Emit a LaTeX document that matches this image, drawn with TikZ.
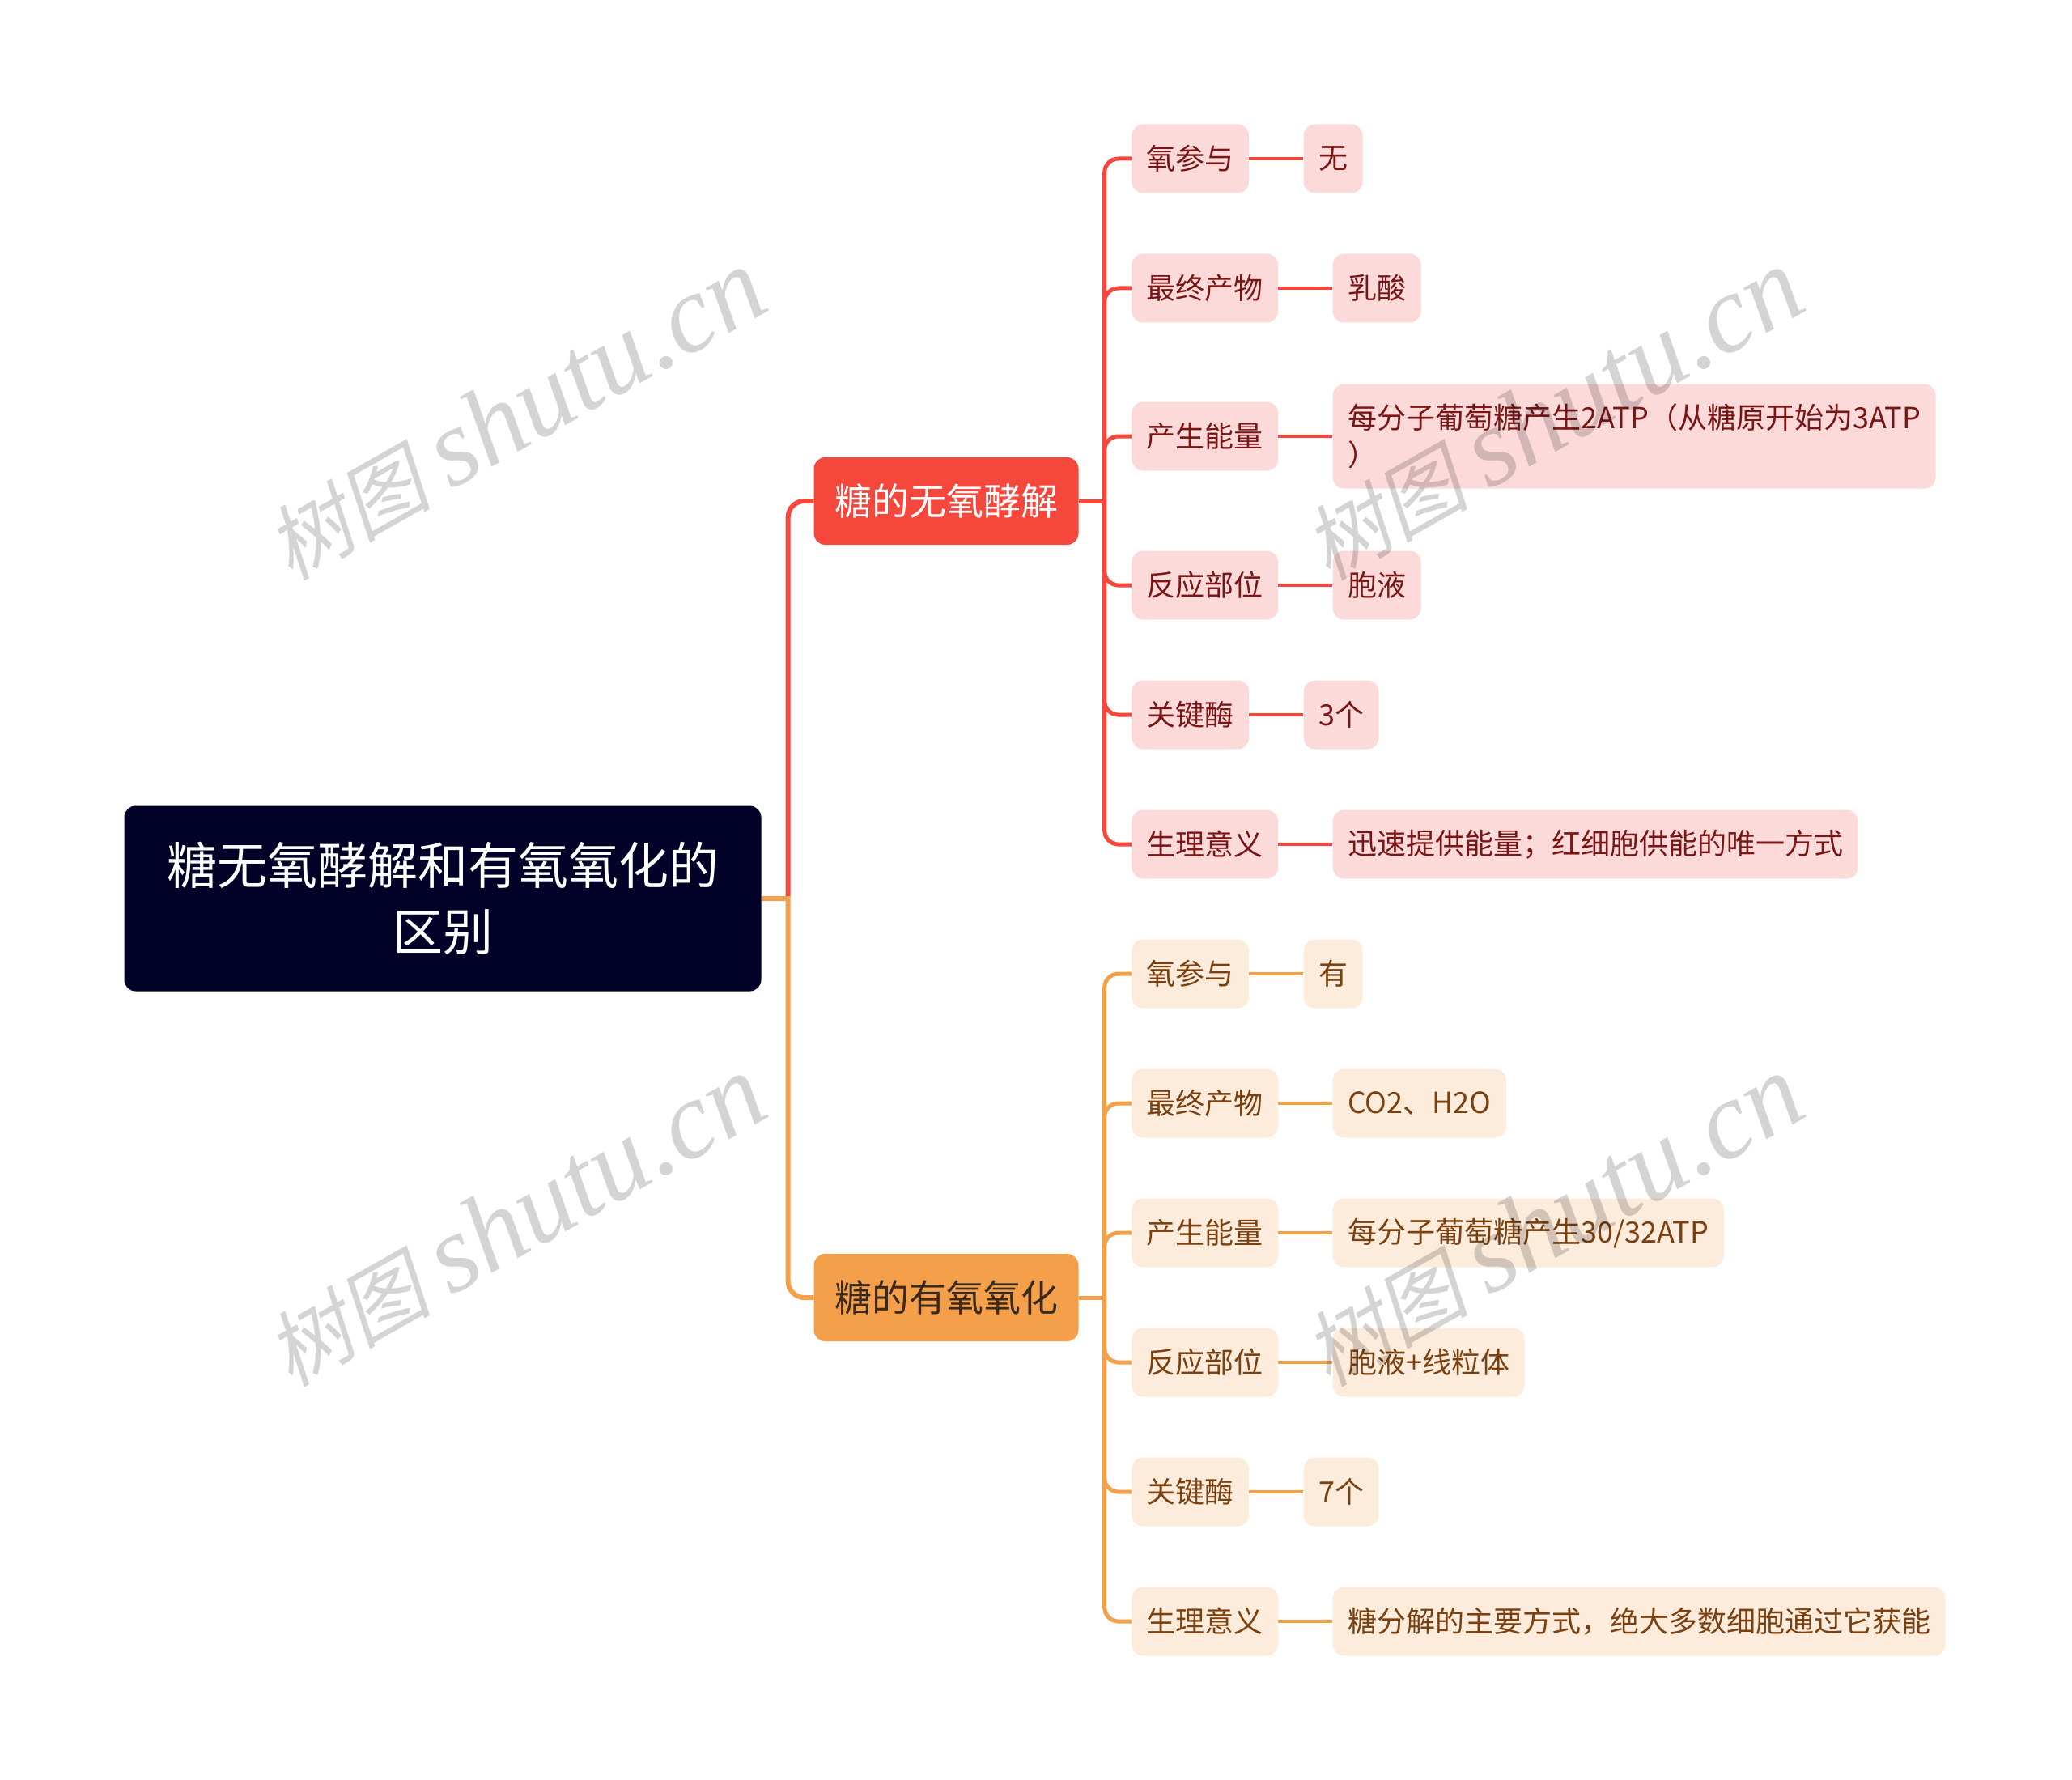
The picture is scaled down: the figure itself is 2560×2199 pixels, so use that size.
\documentclass[tikz,border=0pt]{standalone}
\usepackage{fontspec}
\setmainfont{Noto Sans CJK SC}
\newfontfamily\wmcjk[FakeSlant=0.2]{Noto Sans CJK SC}
\newfontfamily\wmlat{Liberation Serif}
\usetikzlibrary{positioning,calc}
\definecolor{rootc}{HTML}{020228}
\definecolor{rmain}{HTML}{F5473B}
\definecolor{omain}{HTML}{F4A04B}
\definecolor{rleaf}{HTML}{FDDADA}
\definecolor{rtext}{HTML}{7A1515}
\definecolor{oleaf}{HTML}{FDEBDB}
\definecolor{otext}{HTML}{7B4010}
\definecolor{obtext}{HTML}{3B2A1C}
\begin{document}
\begin{tikzpicture}[x=1pt,y=-1pt,
  rootbox/.style={fill=rootc, rounded corners=14pt, text=white, font=\fontsize{62}{82}\selectfont, minimum width=787pt, minimum height=229pt, align=center, inner sep=0pt},
  branchbox/.style={rounded corners=14pt, minimum width=327pt, minimum height=108pt, font=\fontsize{46}{56}\selectfont, inner sep=0pt},
  keybox/.style={rounded corners=14pt, minimum height=85pt, inner xsep=18.5pt, inner ysep=0pt, font=\fontsize{36}{46}\selectfont, anchor=west},
  rkey/.style={keybox, fill=rleaf, text=rtext},
  okey/.style={keybox, fill=oleaf, text=otext},
  rl/.style={draw=rmain},
  ol/.style={draw=omain},
  trunkline/.style={line width=6pt},
  branchline/.style={line width=5pt, rounded corners=17pt},
  kvline/.style={line width=4.5pt},
  wm/.style={text=black, text opacity=0.17, rotate=29.5, transform shape, inner sep=0pt}
]
\useasboundingbox (0,0) rectangle (2560,2199);

% root and branches
\node[rootbox] (root) at (547,1110) {糖无氧酵解和有氧氧化的\\区别};
\node[branchbox, fill=rmain, text=white] (b1) at (1169,619) {糖的无氧酵解};
\node[branchbox, fill=omain, text=obtext] (b2) at (1169,1603) {糖的有氧氧化};

\coordinate (tr) at ($(root.east)+(33,0)$);
\draw[ol, trunkline] (root.east) -- (tr);
\draw[rl, trunkline, rounded corners=20pt] ($(tr)+(0,-3)$) |- (b1.west);
\draw[ol, trunkline, rounded corners=20pt] ($(tr)+(0,-3)$) |- (b2.west);

% red keys and values
\node[rkey] (r1k) at (1398,196) {氧参与};
\node[rkey] (r2k) at (1398,356) {最终产物};
\node[rkey] (r3k) at (1398,539) {产生能量};
\node[rkey] (r4k) at (1398,723) {反应部位};
\node[rkey] (r5k) at (1398,883) {关键酶};
\node[rkey] (r6k) at (1398,1043) {生理意义};
\node[rkey, right=67pt of r1k] (r1v) {无};
\node[rkey, right=67pt of r2k] (r2v) {乳酸};
\node[rkey, right=67pt of r3k, align=left, minimum height=129pt] (r3v) {每分子葡萄糖产生2ATP（从糖原开始为3ATP\\）};
\node[rkey, right=67pt of r4k] (r4v) {胞液};
\node[rkey, right=67pt of r5k] (r5v) {3个};
\node[rkey, right=67pt of r6k] (r6v) {迅速提供能量；红细胞供能的唯一方式};

\coordinate (h1) at ($(b1.east)+(32,0)$);
\draw[rl, line width=5pt] (b1.east) -- (h1);
\foreach \i in {1,...,6} {
  \draw[rl, branchline] (h1) |- (r\i k.west);
  \draw[rl, kvline] (r\i k.east) -- (r\i v.west);
}

% orange keys and values
\node[okey] (o1k) at (1398,1203) {氧参与};
\node[okey] (o2k) at (1398,1363) {最终产物};
\node[okey] (o3k) at (1398,1523) {产生能量};
\node[okey] (o4k) at (1398,1683) {反应部位};
\node[okey] (o5k) at (1398,1843) {关键酶};
\node[okey] (o6k) at (1398,2003) {生理意义};
\node[okey, right=67pt of o1k] (o1v) {有};
\node[okey, right=67pt of o2k] (o2v) {CO2、H2O};
\node[okey, right=67pt of o3k] (o3v) {每分子葡萄糖产生30/32ATP};
\node[okey, right=67pt of o4k] (o4v) {胞液+线粒体};
\node[okey, right=67pt of o5k] (o5v) {7个};
\node[okey, right=67pt of o6k] (o6v) {糖分解的主要方式，绝大多数细胞通过它获能};

\coordinate (h2) at ($(b2.east)+(32,0)$);
\draw[ol, line width=5pt] (b2.east) -- (h2);
\foreach \i in {1,...,6} {
  \draw[ol, branchline] (h2) |- (o\i k.west);
  \draw[ol, kvline] (o\i k.east) -- (o\i v.west);
}

% watermarks
\foreach \p [count=\j] in {(636,512),(1918,512),(636,1508),(1918,1508)} {
  \node[wm] (wm\j) at \p {{\wmcjk\fontsize{102}{104}\selectfont 树图}\hspace{24pt}{\wmlat\itshape\fontsize{136}{140}\selectfont shutu.cn}};
}
\end{tikzpicture}
\end{document}
